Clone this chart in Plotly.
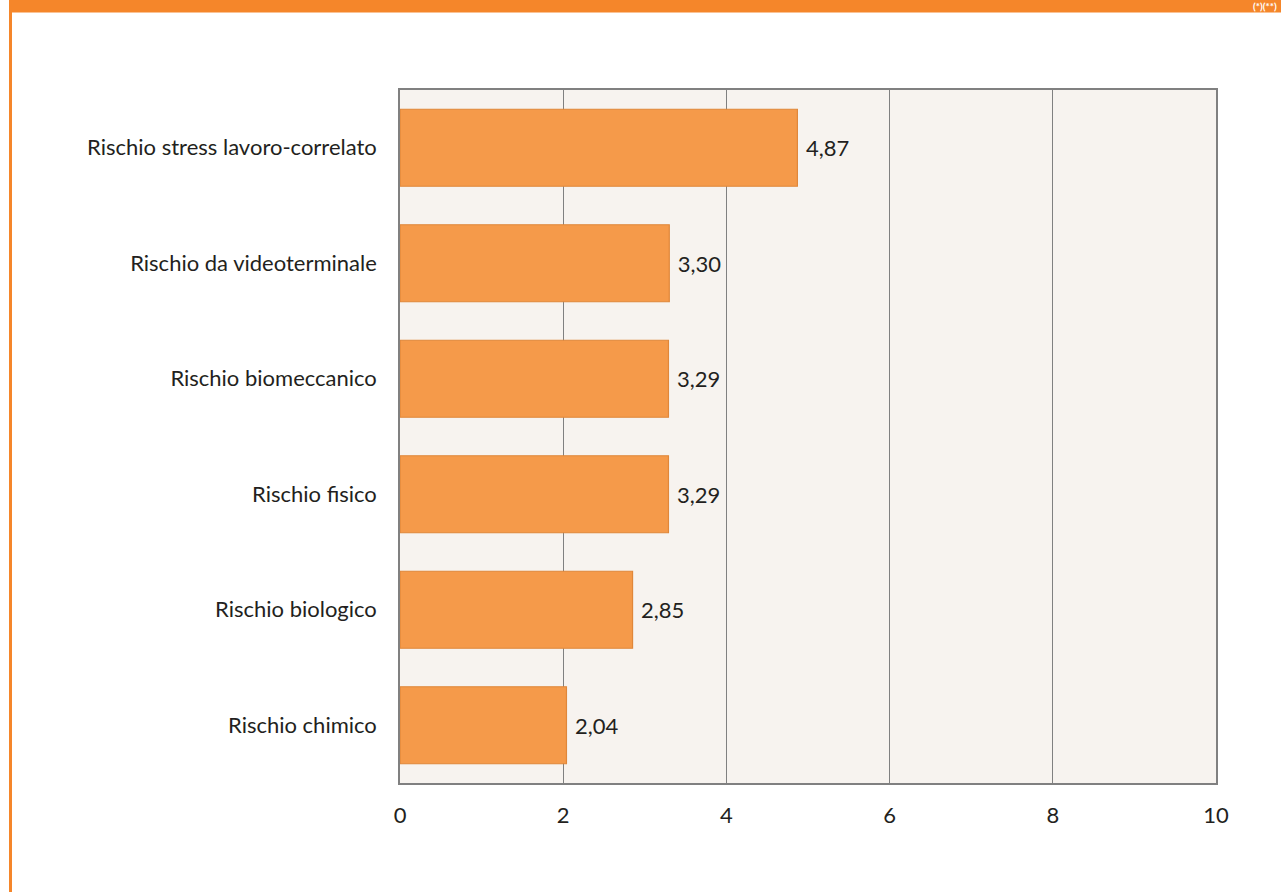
import plotly.graph_objects as go

categories = ["Rischio chimico", "Rischio biologico", "Rischio fisico",
              "Rischio biomeccanico", "Rischio da videoterminale",
              "Rischio stress lavoro-correlato"]
values = [2.04, 2.85, 3.29, 3.29, 3.30, 4.87]
x_ticks = [0, 2, 4, 6, 8, 10]

W, H = 1281, 892
L, R, T, B = 400, 65, 90, 109
pw, ph = W - L - R, H - T - B
FONT = "Lato, sans-serif"
FS = 22

def px(x):
    return (x - L) / pw

def py(y):
    return 1 - (y - T) / ph

fig = go.Figure(go.Bar(
    y=categories, x=values, orientation="h",
    marker=dict(color="#F59A4A", line=dict(color="#E0873A", width=1.2)),
    width=0.667,
    texttemplate="\u2009\u2009%{x:.2f}", textposition="outside",
    textfont=dict(family=FONT, size=FS, color="#231F20"),
    cliponaxis=False,
))

fig.update_layout(
    width=W, height=H,
    margin=dict(l=L, r=R, t=T, b=B, autoexpand=False),
    paper_bgcolor="white", plot_bgcolor="#F7F3EF",
    separators=",.",
    showlegend=False,
    bargap=0.333,
    font=dict(family=FONT, size=FS, color="#231F20"),
    xaxis=dict(range=[0, 10], tickvals=x_ticks, showgrid=True,
               gridcolor="#808080", gridwidth=1, zeroline=False,
               showline=True, mirror=True, linecolor="#808080", linewidth=1.5,
               ticks="", ticklabelstandoff=12,
               tickfont=dict(family=FONT, size=FS, color="#231F20")),
    yaxis=dict(range=[-0.5, 5.5], showgrid=False, zeroline=False,
               showline=True, mirror=True, linecolor="#808080", linewidth=1.5,
               ticks="", ticklabelstandoff=17,
               tickfont=dict(family=FONT, size=FS, color="#231F20")),
    shapes=[
        dict(type="rect", xref="paper", yref="paper",
             x0=px(9), x1=px(W + 2), y0=py(12.5), y1=py(-2),
             fillcolor="#F5862A", line=dict(width=0), layer="above"),
        dict(type="rect", xref="paper", yref="paper",
             x0=px(9), x1=px(12), y0=py(H + 2), y1=py(0),
             fillcolor="#F5862A", line=dict(width=0), layer="above"),
    ],
    annotations=[
        dict(text="<b>(*)(**)</b>", xref="paper", yref="paper",
             x=px(1279), y=py(6), xanchor="right", yanchor="middle",
             showarrow=False,
             font=dict(family=FONT, size=10, color="white")),
    ],
)

fig.write_html("out.html")
